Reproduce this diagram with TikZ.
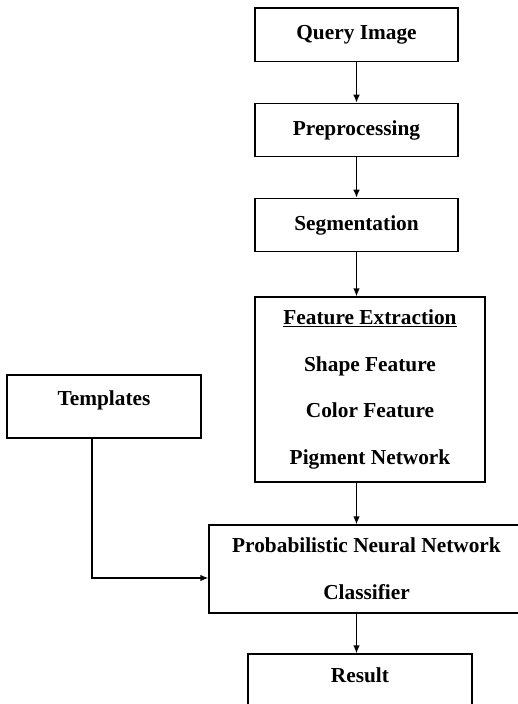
\documentclass[tikz,border=0pt]{standalone}
\usepackage{fontspec}
\setmainfont{Liberation Serif}
\usetikzlibrary{arrows.meta,positioning}

\begin{document}
\begin{tikzpicture}[x=0.75pt,y=-0.75pt,
  blk/.style={draw,line width=1pt,align=center,inner sep=0pt,
    font=\bfseries\fontsize{16}{35}\selectfont},
  stage/.style={blk,minimum width=152.25pt,minimum height=40pt},
  arr/.style={-{Latex[length=6pt,width=5pt]},line width=1pt}
]
\useasboundingbox (0,0) rectangle (518,704);
\node[stage] (query) at (356.5,34.5) {Query Image};
\node[stage] (prep) at (356.5,130) {Preprocessing};
\node[stage] (seg) at (356.5,225) {Segmentation};
\node[blk,minimum width=172.5pt,minimum height=138.75pt] (feat) at (370,389.5) {
  \underline{Feature Extraction}\\
  Shape Feature\\
  Color Feature\\
  Pigment Network
};
\node[blk,minimum width=145.5pt,minimum height=47.25pt,
  text height=11pt,text depth=13.2pt] (tmpl) at (104,406.5) {Templates};
\node[blk,minimum width=236.25pt,minimum height=66pt] (pnn) at (366.5,569) {
  Probabilistic Neural Network\\
  Classifier
};
\node[blk,minimum width=168pt,minimum height=45pt,
  text height=11pt,text depth=13.9pt] (res) at (360,684) {Result};
\draw[arr] (query) -- (prep);
\draw[arr] (prep) -- (seg);
\draw[arr] (seg) -- (seg |- feat.north);
\draw[arr] (feat.south -| seg) -- (seg |- pnn.north);
\draw[arr] (pnn.south -| seg) -- (seg |- res.north);
\draw[arr] ([xshift=-9pt]tmpl.south) |- ([yshift=-6.75pt]pnn.west);
\end{tikzpicture}
\end{document}
